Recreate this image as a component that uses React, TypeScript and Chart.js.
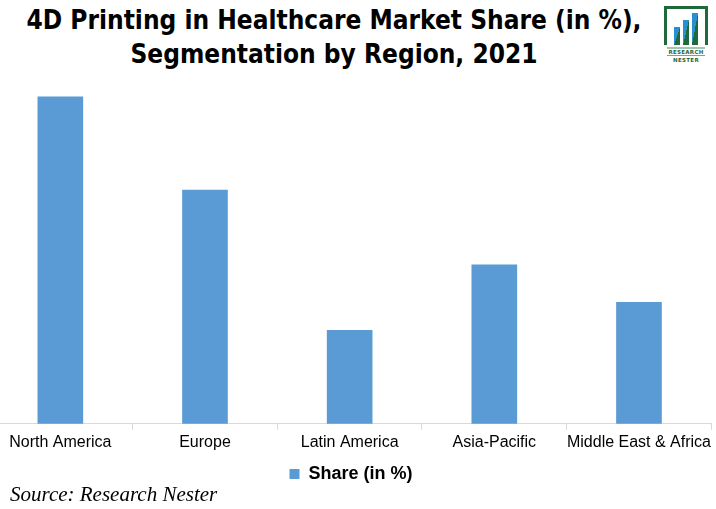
import React, { useEffect, useRef } from "react";
import { Chart, registerables } from "chart.js";

Chart.register(...registerables);

const categories = ["North America", "Europe", "Latin America", "Asia-Pacific", "Middle East & Africa"];
const shareValues = [35, 25, 10, 17, 13];
const seriesLabel = "Share (in %)";
const titleLines = ["4D Printing in Healthcare Market Share (in %),", "Segmentation by Region, 2021"];
const sourceText = "Source: Research Nester";

function Logo() {
  return (
    <svg width="50" height="62" viewBox="0 0 50 62" style={{ position: "absolute", left: 661, top: 3 }}>
      <defs>
        <linearGradient id="lg" x1="0" y1="0" x2="1" y2="1">
          <stop offset="0" stopColor="#2a8fd0" />
          <stop offset="0.5" stopColor="#2a8fd0" />
          <stop offset="0.5" stopColor="#1f6a3a" />
          <stop offset="1" stopColor="#1f6a3a" />
        </linearGradient>
      </defs>
      <path d="M3 3 H47 V42 H44 V6 H6 V42 H3 Z" fill="#1f6a3a" />
      <rect x="13" y="24" width="6" height="18" fill="url(#lg)" />
      <rect x="22" y="17" width="6" height="25" fill="url(#lg)" />
      <rect x="31" y="10" width="6" height="32" fill="url(#lg)" />
      <line x1="6" y1="45" x2="44" y2="45" stroke="#1f6a3a" strokeWidth="0.8" />
      <text x="25" y="50.5" textAnchor="middle" fontSize="5.5" fontWeight="bold" fill="#1f6a3a" fontFamily="DejaVu Sans" letterSpacing="0.3">RESEARCH</text>
      <line x1="6" y1="52.5" x2="44" y2="52.5" stroke="#1f6a3a" strokeWidth="0.6" />
      <text x="25" y="58.5" textAnchor="middle" fontSize="5.5" fontWeight="bold" fill="#1f6a3a" fontFamily="DejaVu Sans" letterSpacing="0.3">NESTER</text>
    </svg>
  );
}

export default function App() {
  const canvasRef = useRef<HTMLCanvasElement | null>(null);

  useEffect(() => {
    const canvas = canvasRef.current;
    if (!canvas) return;
    const chart = new Chart(canvas, {
      type: "bar",
      data: {
        labels: categories,
        datasets: [
          {
            label: seriesLabel,
            data: shareValues,
            backgroundColor: "#5B9BD5",
            borderWidth: 0,
            barThickness: 45,
          },
        ],
      },
      options: {
        responsive: false,
        animation: false,
        devicePixelRatio: 1,
        layout: { padding: { top: 50, bottom: 16, left: 0, right: 0 } },
        plugins: {
          title: { display: false },
          tooltip: { enabled: false },
          legend: {
            display: true,
            position: "bottom",
            labels: {
              boxWidth: 10,
              boxHeight: 10,
              padding: 10,
              color: "#000",
              font: { family: "'Liberation Sans', Arial, sans-serif", size: 18, weight: "bold" },
            },
          },
        },
        scales: {
          x: {
            offset: true,
            grid: {
              display: true,
              drawOnChartArea: false,
              drawTicks: true,
              tickLength: 6,
              color: "#d9d9d9",
              offset: true,
            },
            border: { display: true, color: "#d9d9d9", width: 1 },
            ticks: {
              color: "#000",
              padding: 3,
              maxRotation: 0,
              minRotation: 0,
              autoSkip: false,
              font: { family: "'Liberation Sans', Arial, sans-serif", size: 16 },
            },
          },
          y: {
            display: false,
            min: 0,
            max: 40,
          },
        },
      },
    });
    return () => chart.destroy();
  }, []);

  return (
    <div style={{ position: "absolute", left: 0, top: 0, width: 716, height: 509, overflow: "hidden", background: "#fff" }}>
      <div
        style={{
          position: "absolute",
          left: 0,
          top: 3,
          width: 668,
          textAlign: "center",
          fontFamily: "'Liberation Sans Narrow', 'DejaVu Sans Condensed', 'Liberation Sans', sans-serif",
          fontWeight: "bold",
          fontSize: 26,
          lineHeight: "34px",
          color: "#000",
        }}
      >
        <div>{titleLines[0]}</div>
        <div>{titleLines[1]}</div>
      </div>
      <Logo />
      <canvas
        ref={canvasRef}
        width={726}
        height={509}
        style={{ position: "absolute", left: -12, top: 0, width: 726, height: 509 }}
      />
      <div
        style={{
          position: "absolute",
          left: 10,
          top: 482,
          fontFamily: "'Liberation Serif', 'DejaVu Serif', serif",
          fontStyle: "italic",
          fontSize: 21,
          lineHeight: "24px",
          color: "#000",
        }}
      >
        {sourceText}
      </div>
    </div>
  );
}
